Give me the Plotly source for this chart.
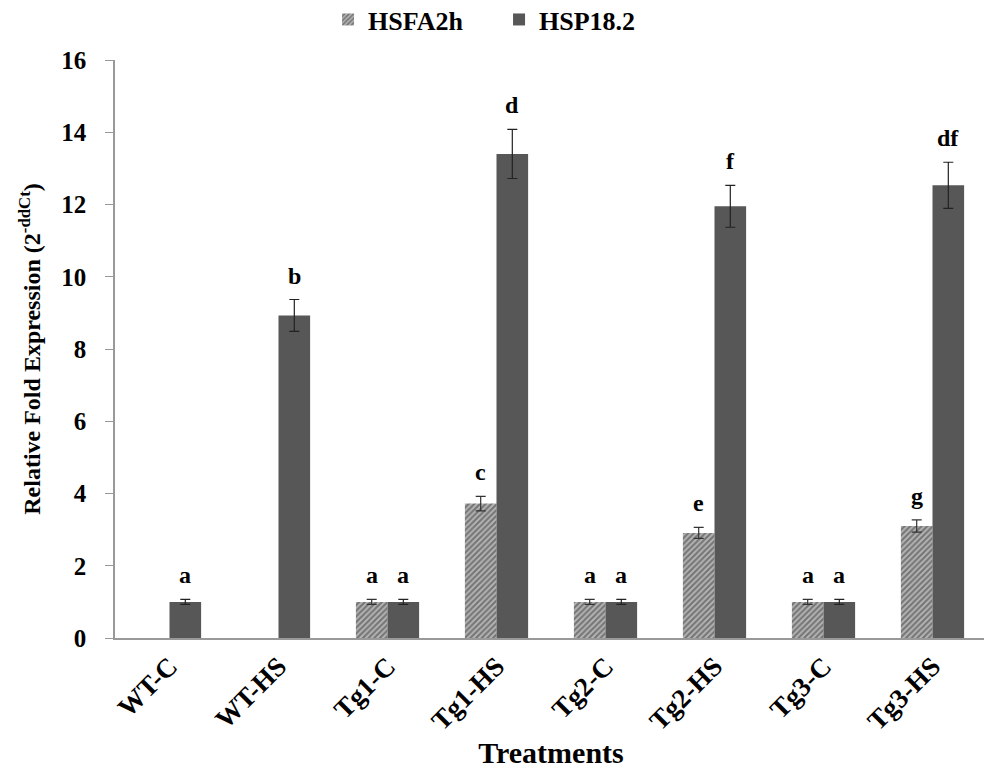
import plotly.graph_objects as go

categories = ["WT-C", "WT-HS", "Tg1-C", "Tg1-HS", "Tg2-C", "Tg2-HS", "Tg3-C", "Tg3-HS"]
hsfa_values = [None, None, 1.0, 3.72, 1.0, 2.91, 1.0, 3.1]
hsfa_errors = [None, None, 0.07, 0.2, 0.07, 0.15, 0.07, 0.17]
hsfa_letters = ["", "", "a", "c", "a", "e", "a", "g"]
hsp_values = [1.0, 8.93, 1.0, 13.4, 1.0, 11.95, 1.0, 12.53]
hsp_errors = [0.07, 0.44, 0.07, 0.68, 0.07, 0.58, 0.07, 0.64]
hsp_letters = ["a", "b", "a", "d", "a", "f", "a", "df"]

W = 0.29
serif = "Liberation Serif, Times New Roman, serif"
idx = list(range(len(categories)))
x_hsfa = [i - W / 2 for i in idx]
x_hsp = [i + W / 2 for i in idx]

fig = go.Figure()
fig.add_trace(go.Bar(
    name="<b>HSFA2h</b>", x=x_hsfa, y=hsfa_values, width=W,
    marker=dict(color="#a0a0a0", line=dict(width=0),
                pattern=dict(shape="/", fgcolor="#363636", bgcolor="#b8b8b8", size=4, solidity=0.55)),
    error_y=dict(type="data", array=hsfa_errors, color="#333333", thickness=1.2, width=5),
))
fig.add_trace(go.Bar(
    name="<b>HSP18.2</b>", x=x_hsp, y=hsp_values, width=W,
    marker=dict(color="#575757", line=dict(width=0)),
    error_y=dict(type="data", array=hsp_errors, color="#222222", thickness=1.2, width=5),
))

for xs, vals, errs, letters in [(x_hsfa, hsfa_values, hsfa_errors, hsfa_letters),
                                (x_hsp, hsp_values, hsp_errors, hsp_letters)]:
    for xv, v, e, t in zip(xs, vals, errs, letters):
        if v is None or not t:
            continue
        fig.add_annotation(x=xv, y=v + e, xref="x", yref="y", text=t, showarrow=False,
                           yanchor="bottom", yshift=9,
                           font=dict(family=serif, size=24, color="black", weight="bold"))

fig.update_layout(
    width=992, height=771,
    margin=dict(l=107, r=13, t=52, b=141),
    plot_bgcolor="white", paper_bgcolor="white",
    barmode="overlay",
    font=dict(family=serif, color="black"),
    legend=dict(orientation="h", xref="container", yref="container", x=0.495, y=0.985,
                xanchor="center", yanchor="middle", entrywidth=126,
                font=dict(family=serif, size=26, color="black"),
                traceorder="normal"),
    xaxis=dict(
        range=[-0.5, 7.5], tickmode="array", tickvals=idx, ticktext=categories,
        tickangle=-45, showline=True, linecolor="#999999", linewidth=1.5,
        showgrid=False, ticks="", zeroline=False, automargin=False,
        tickfont=dict(family=serif, size=27, color="black", weight="bold"),
        title=dict(text="Treatments", standoff=0,
                   font=dict(family=serif, size=30, color="black", weight="bold")),
    ),
    yaxis=dict(
        range=[0, 16], dtick=2, showline=True, linecolor="#999999", linewidth=1.5,
        ticks="outside", ticklen=8, tickcolor="#999999", showgrid=False, zeroline=False,
        automargin=False, ticklabelstandoff=14,
        tickfont=dict(family=serif, size=25, color="black", weight="bold"),
        title=dict(text="Relative Fold Expression (2<sup>-ddCt</sup>)", standoff=14,
                   font=dict(family=serif, size=24, color="black", weight="bold")),
    ),
)

fig.write_html("out.html")
